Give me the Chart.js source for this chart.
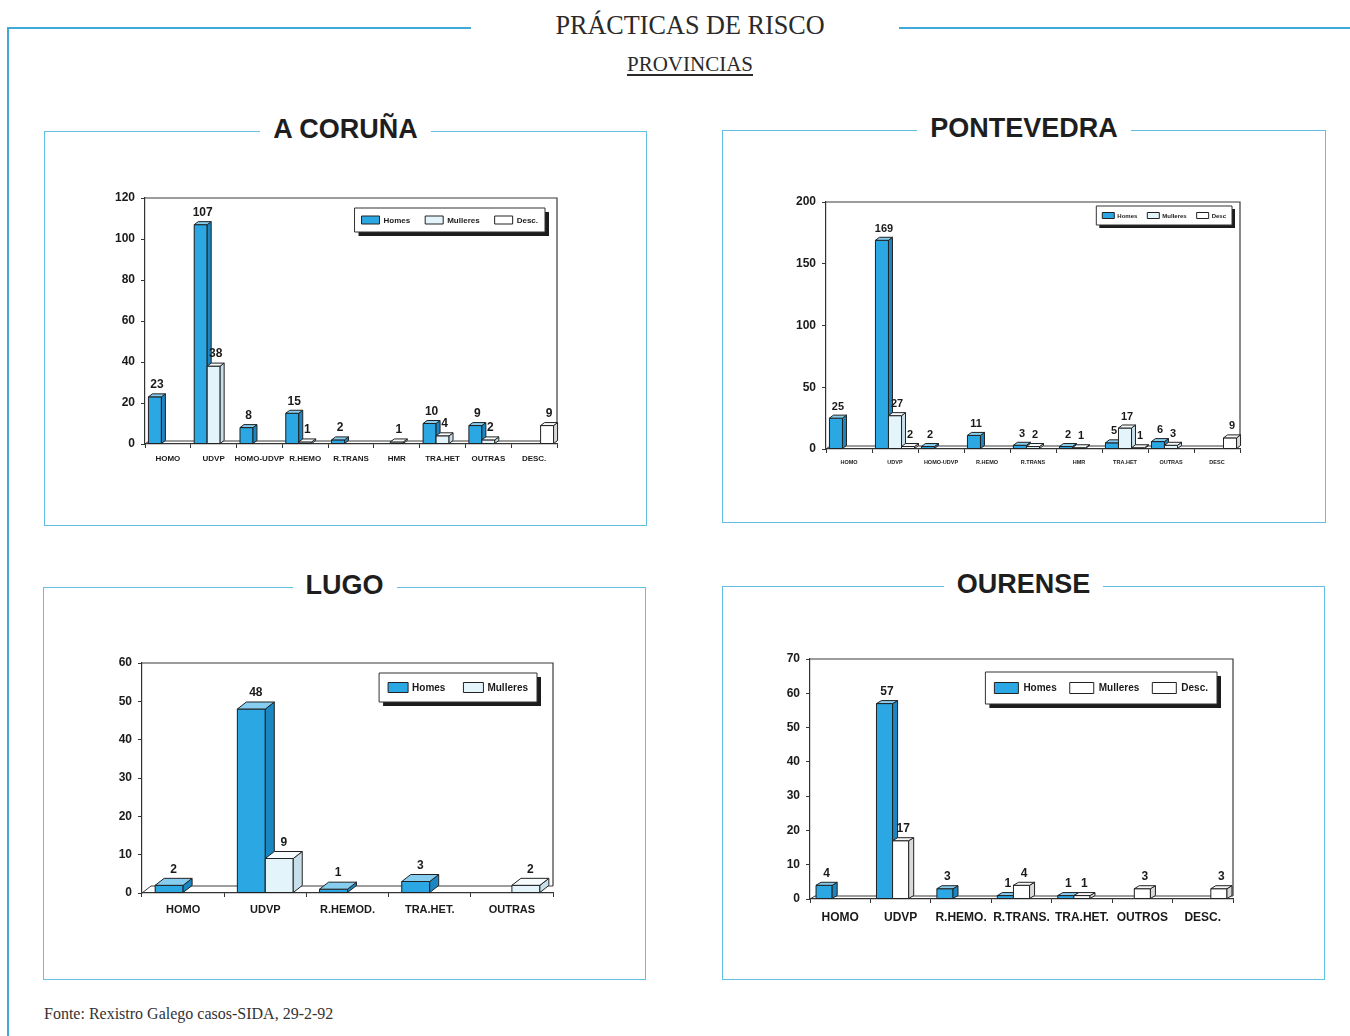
<!DOCTYPE html>
<html>
<head>
<meta charset="utf-8">
<script src="https://cdn.jsdelivr.net/npm/chart.js@4.4.1/dist/chart.umd.min.js"></script>
<style>
  body { margin: 0; background: #fff; }
  #page { position: relative; width: 1350px; height: 1036px; overflow: hidden; background: #fff; }
  .line { position: absolute; background: #3fa9d9; }
  .panel { position: absolute; border: 1.5px solid #64bee4; box-sizing: border-box; }
  .ptitle { position: absolute; top: -18px; left: 0; right: 0; text-align: center; line-height: 30px; }
  .ptitle span { background: #fff; padding: 0 13px; font: bold 27px 'Liberation Sans', Arial, sans-serif; color: #1e1e1e; }
  #title { position: absolute; left: 0; width: 1380px; top: 10px; text-align: center; font: 27px 'Liberation Serif', serif; color: #2a2a2a; transform: scaleX(0.97); }
  #sub { position: absolute; left: 0; width: 1380px; top: 52px; text-align: center; font: 21px 'Liberation Serif', serif; color: #2a2a2a; text-decoration: underline; text-underline-offset: 3px; }
  #fonte { position: absolute; left: 44px; top: 1005px; font: 16px 'Liberation Serif', serif; color: #333; }
  canvas { position: absolute; }
</style>
</head>
<body>
<div id="page">
  <div class="line" style="left:7px;top:27px;width:464px;height:2px"></div>
  <div class="line" style="left:899px;top:27px;width:451px;height:2px"></div>
  <div class="line" style="left:7px;top:27px;width:2px;height:1009px"></div>
  <div id="title">PRÁCTICAS DE RISCO</div>
  <div id="sub">PROVINCIAS</div>

  <div class="panel" style="left:44px;top:131px;width:603px;height:395px"><div class="ptitle"><span>A CORUÑA</span></div></div>
  <div class="panel" style="left:722px;top:130px;width:604px;height:393px"><div class="ptitle"><span>PONTEVEDRA</span></div></div>
  <div class="panel" style="left:43px;top:587px;width:603px;height:393px"><div class="ptitle" style="top:-18px"><span>LUGO</span></div></div>
  <div class="panel" style="left:722px;top:586px;width:603px;height:394px"><div class="ptitle" style="top:-18px"><span>OURENSE</span></div></div>

  <canvas id="coruna" width="603" height="395" style="left:44px;top:131px"></canvas>
  <canvas id="pontevedra" width="604" height="393" style="left:722px;top:130px"></canvas>
  <canvas id="lugo" width="603" height="393" style="left:43px;top:587px"></canvas>
  <canvas id="ourense" width="603" height="394" style="left:722px;top:586px"></canvas>

  <div id="fonte">Fonte: Rexistro Galego casos-SIDA, 29-2-92</div>
</div>

<script>
// A Coruña
const coruCats = ['HOMO', 'UDVP', 'HOMO-UDVP', 'R.HEMO', 'R.TRANS', 'HMR', 'TRA.HET', 'OUTRAS', 'DESC.'];
const coruHomes = [23, 107, 8, 15, 2, null, 10, 9, null];
const coruMulleres = [null, 38, null, 1, null, 1, 4, 2, null];
const coruDesc = [null, null, null, null, null, null, null, null, 9];
const coruTicks = [0, 20, 40, 60, 80, 100, 120];

// Pontevedra
const pontCats = ['HOMO', 'UDVP', 'HOMO-UDVP', 'R.HEMO', 'R.TRANS', 'HMR', 'TRA.HET', 'OUTRAS', 'DESC'];
const pontHomes = [25, 169, 2, 11, 3, 2, 5, 6, null];
const pontMulleres = [null, 27, null, null, 2, 1, 17, 3, null];
const pontDesc = [null, 2, null, null, null, null, 1, null, 9];
const pontTicks = [0, 50, 100, 150, 200];

// Lugo
const lugoCats = ['HOMO', 'UDVP', 'R.HEMOD.', 'TRA.HET.', 'OUTRAS'];
const lugoHomes = [2, 48, 1, 3, null];
const lugoMulleres = [null, 9, null, null, 2];
const lugoTicks = [0, 10, 20, 30, 40, 50, 60];

// Ourense
const ourCats = ['HOMO', 'UDVP', 'R.HEMO.', 'R.TRANS.', 'TRA.HET.', 'OUTROS', 'DESC.'];
const ourHomes = [4, 57, 3, 1, 1, null, null];
const ourMulleres = [null, 17, null, 4, 1, 3, null];
const ourDesc = [null, null, null, null, null, null, 3];
const ourTicks = [0, 10, 20, 30, 40, 50, 60, 70];

const BLUE = '#2ba7e4';
const FONT = '"Liberation Sans", Arial, sans-serif';
const faces = {
  '#2ba7e4': { top: '#86cdf0', side: '#1a86c2' },
  '#e4f4fb': { top: '#f6fbfe', side: '#c6dfea' },
  '#ffffff': { top: '#f7f7f7', side: '#d9d9d9' }
};

function poly(ctx, pts, fill) {
  ctx.beginPath();
  ctx.moveTo(pts[0][0], pts[0][1]);
  for (let k = 1; k < pts.length; k++) ctx.lineTo(pts[k][0], pts[k][1]);
  ctx.closePath();
  ctx.fillStyle = fill;
  ctx.fill();
  ctx.stroke();
}

// box frame and floor behind the bars
const frame3d = {
  id: 'frame3d',
  beforeDatasetsDraw(chart, args, o) {
    const {ctx, chartArea: a} = chart;
    ctx.save();
    ctx.strokeStyle = '#3a3a3a';
    ctx.lineWidth = 1.2;
    ctx.beginPath();
    ctx.moveTo(a.left, a.top);
    ctx.lineTo(a.right, a.top);
    ctx.lineTo(a.right, a.bottom - o.dy);
    ctx.stroke();
    ctx.lineWidth = 1;
    ctx.beginPath();
    ctx.moveTo(a.left, a.bottom);
    ctx.lineTo(a.left + o.dx, a.bottom - o.dy);
    ctx.lineTo(a.right, a.bottom - o.dy);
    ctx.stroke();
    ctx.restore();
  }
};

// pseudo 3D bars, value labels and the boxed legend
const bars3d = {
  id: 'bars3d',
  afterDatasetsDraw(chart, args, o) {
    const ctx = chart.ctx;
    const dx = o.dx, dy = o.dy;
    const n = chart.data.labels.length;
    ctx.save();
    ctx.strokeStyle = '#222';
    ctx.lineWidth = 1;
    ctx.lineJoin = 'round';
    for (let i = 0; i < n; i++) {
      chart.data.datasets.forEach((ds, j) => {
        if (ds.data[i] == null) return;
        const el = chart.getDatasetMeta(j).data[i];
        const {x, y, base, width} = el.getProps(['x', 'y', 'base', 'width'], true);
        const l = x - width / 2, r = x + width / 2;
        const f = faces[ds.backgroundColor];
        poly(ctx, [[l, y], [r, y], [r, base], [l, base]], ds.backgroundColor);
        poly(ctx, [[r, y], [r + dx, y - dy], [r + dx, base - dy], [r, base]], f.side);
        poly(ctx, [[l, y], [l + dx, y - dy], [r + dx, y - dy], [r, y]], f.top);
      });
    }
    ctx.fillStyle = '#1a1a1a';
    ctx.font = 'bold ' + o.labelSize + 'px ' + FONT;
    ctx.textAlign = 'center';
    ctx.textBaseline = 'bottom';
    chart.data.datasets.forEach((ds, j) => {
      chart.getDatasetMeta(j).data.forEach((el, i) => {
        if (ds.data[i] == null) return;
        ctx.fillText(ds.data[i], el.x + dx / 2, el.y - dy - 3);
      });
    });

    // legend
    const L = o.legend, a = chart.chartArea;
    ctx.font = 'bold ' + L.size + 'px ' + FONT;
    const widths = chart.data.datasets.map(ds => L.boxW + L.gap + ctx.measureText(ds.label).width);
    const inner = widths.reduce((s, w) => s + w, 0) + L.itemGap * (widths.length - 1);
    const bw = inner + L.padX * 2;
    const right = a.right - L.offRight;
    const left = right - bw;
    const top = a.top + L.offTop;
    ctx.fillStyle = '#1c1c1c';
    ctx.fillRect(left + L.shadow, top + L.shadow, bw, L.h);
    ctx.fillStyle = '#fff';
    ctx.fillRect(left, top, bw, L.h);
    ctx.strokeStyle = '#333';
    ctx.strokeRect(left, top, bw, L.h);
    let cx = left + L.padX;
    const cy = top + L.h / 2;
    ctx.textAlign = 'left';
    ctx.textBaseline = 'middle';
    chart.data.datasets.forEach((ds, j) => {
      ctx.fillStyle = ds.backgroundColor;
      ctx.fillRect(cx, cy - L.boxH / 2, L.boxW, L.boxH);
      ctx.strokeStyle = '#222';
      ctx.strokeRect(cx, cy - L.boxH / 2, L.boxW, L.boxH);
      ctx.fillStyle = '#1a1a1a';
      ctx.fillText(ds.label, cx + L.boxW + L.gap, cy + 0.5);
      cx += widths[j] + L.itemGap;
    });
    ctx.restore();
  }
};

function makeChart(id, cats, series, ticks, s) {
  const datasets = series.map(sr => ({
    label: sr.label,
    data: sr.data,
    backgroundColor: sr.color,
    borderColor: '#222',
    borderWidth: 1,
    categoryPercentage: s.catPct,
    barPercentage: 1.0
  }));
  return new Chart(document.getElementById(id), {
    type: 'bar',
    data: { labels: cats, datasets: datasets },
    options: {
      responsive: false,
      animation: false,
      layout: { padding: s.pad },
      scales: {
        x: {
          grid: { display: true, drawOnChartArea: false, drawTicks: true, tickLength: 4, color: '#333' },
          border: { display: true, color: '#333', width: 1.2 },
          ticks: { autoSkip: false, maxRotation: 0, padding: s.xPad, color: '#1a1a1a',
                   font: { family: 'Liberation Sans', weight: 'bold', size: s.xSize } },
          afterFit(scale) { scale.height = 24; }
        },
        y: {
          min: ticks[0],
          max: ticks[ticks.length - 1],
          afterBuildTicks(scale) { scale.ticks = ticks.map(v => ({ value: v })); },
          grid: { display: true, drawOnChartArea: false, drawTicks: true, tickLength: 4, color: '#333' },
          border: { display: true, color: '#333', width: 1.2 },
          ticks: { padding: 6, color: '#1a1a1a', font: { family: 'Liberation Sans', weight: 'bold', size: s.ySize } },
          afterFit(scale) { scale.width = 40; }
        }
      },
      plugins: {
        tooltip: { enabled: false },
        legend: { display: false },
        frame3d: { dx: s.dx, dy: s.dy },
        bars3d: { dx: s.dx, dy: s.dy, labelSize: s.labelSize, legend: s.legend }
      }
    },
    plugins: [frame3d, bars3d]
  });
}

makeChart('coruna', coruCats, [
  { label: 'Homes', data: coruHomes, color: BLUE },
  { label: 'Mulleres', data: coruMulleres, color: '#e4f4fb' },
  { label: 'Desc.', data: coruDesc, color: '#ffffff' }
], coruTicks, { pad: { left: 61, top: 67, right: 90, bottom: 58 }, catPct: 0.85, dx: 4, dy: 3,
  xSize: 8, xPad: 6, ySize: 12, labelSize: 12,
  legend: { size: 8, boxW: 18, boxH: 8, gap: 4, itemGap: 15, padX: 7, h: 24, offTop: 10, offRight: 12, shadow: 4 } });

makeChart('pontevedra', pontCats, [
  { label: 'Homes', data: pontHomes, color: BLUE },
  { label: 'Mulleres', data: pontMulleres, color: '#e4f4fb' },
  { label: 'Desc', data: pontDesc, color: '#ffffff' }
], pontTicks, { pad: { left: 64, top: 72, right: 86, bottom: 50 }, catPct: 0.85, dx: 4, dy: 3,
  xSize: 5.5, xPad: 6, ySize: 12, labelSize: 11,
  legend: { size: 6, boxW: 12, boxH: 6, gap: 3, itemGap: 10, padX: 6, h: 19, offTop: 4, offRight: 8, shadow: 3 } });

makeChart('lugo', lugoCats, [
  { label: 'Homes', data: lugoHomes, color: BLUE },
  { label: 'Mulleres', data: lugoMulleres, color: '#e4f4fb' }
], lugoTicks, { pad: { left: 59, top: 76, right: 93, bottom: 63 }, catPct: 0.68, dx: 9, dy: 7,
  xSize: 11, xPad: 6, ySize: 12, labelSize: 12,
  legend: { size: 10, boxW: 20, boxH: 10, gap: 4, itemGap: 18, padX: 9, h: 29, offTop: 10, offRight: 16, shadow: 4 } });

makeChart('ourense', ourCats, [
  { label: 'Homes', data: ourHomes, color: BLUE },
  { label: 'Mulleres', data: ourMulleres, color: '#ffffff' },
  { label: 'Desc.', data: ourDesc, color: '#ffffff' }
], ourTicks, { pad: { left: 48, top: 73, right: 92, bottom: 57 }, catPct: 0.8, dx: 5, dy: 3,
  xSize: 12, xPad: 7, ySize: 12, labelSize: 12,
  legend: { size: 10, boxW: 24, boxH: 11, gap: 5, itemGap: 13, padX: 9, h: 32, offTop: 13, offRight: 16, shadow: 4 } });
</script>
</body>
</html>
